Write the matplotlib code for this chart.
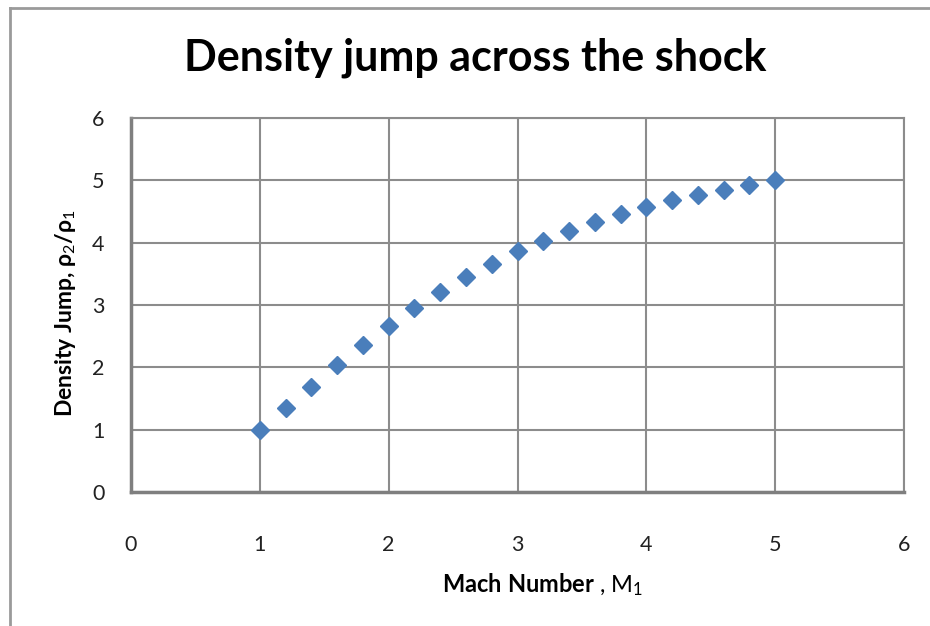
import matplotlib
matplotlib.use("Agg")
import matplotlib.pyplot as plt
from matplotlib.lines import Line2D

# Mach number and density ratio
mach = [1.0, 1.2, 1.4, 1.6, 1.8, 2.0, 2.2, 2.4, 2.6, 2.8, 3.0,
        3.2, 3.4, 3.6, 3.8, 4.0, 4.2, 4.4, 4.6, 4.8, 5.0]
density_jump = [1.00, 1.34, 1.69, 2.03, 2.36, 2.67, 2.95, 3.21, 3.45, 3.66, 3.86,
                4.03, 4.19, 4.33, 4.46, 4.57, 4.68, 4.77, 4.85, 4.93, 5.00]
x_ticks = [0, 1, 2, 3, 4, 5, 6]
y_ticks = [0, 1, 2, 3, 4, 5, 6]

plt.rcParams['font.family'] = ['Lato', 'DejaVu Sans']
plt.rcParams['mathtext.fontset'] = 'custom'
plt.rcParams['mathtext.rm'] = 'Lato'
plt.rcParams['mathtext.bf'] = 'Lato:bold'
plt.rcParams['mathtext.it'] = 'Lato:italic'

fig = plt.figure(figsize=(9.3, 6.26), dpi=100)
ax = fig.add_axes([131/930, 134/626, 773/930, 374/626])

ax.plot(mach, density_jump, linestyle='none', marker='D', markersize=9.5,
        color='#4a7ebb', zorder=3)

ax.set_xlim(0, 6)
ax.set_ylim(0, 6)
ax.set_xticks(x_ticks)
ax.set_yticks(y_ticks)
ax.tick_params(axis='both', length=0, labelsize=15.5, colors='#222222')
ax.tick_params(axis='x', pad=31)
ax.tick_params(axis='y', pad=19)
ax.grid(True, color='#8c8c8c', linewidth=1.5)
ax.set_axisbelow(True)
for side in ['top', 'right']:
    ax.spines[side].set_color('#8c8c8c')
    ax.spines[side].set_linewidth(1.5)
for side in ['left', 'bottom']:
    ax.spines[side].set_color('#7f7f7f')
    ax.spines[side].set_linewidth(2.5)

fig.text(475/930, 1 - 58/626, 'Density jump across the shock',
         ha='center', va='center', fontsize=31, fontweight='bold')
fig.text(543/930, 1 - 585/626, r'$\mathbf{Mach\ Number}$ , $\mathrm{M}_1$',
         ha='center', va='center', fontsize=17)
fig.text(66/930, 1 - 313/626, 'Density Jump, ρ$_2$/ρ$_1$',
         ha='center', va='center', fontsize=16.5, fontweight='bold', rotation=90)

# outer chart border (left and top edges only are in view)
fig.add_artist(Line2D([10/930, 10/930], [0, 1 - 8/626], transform=fig.transFigure,
                      color='#9a9a9a', linewidth=2))
fig.add_artist(Line2D([10/930, 1.02], [1 - 8/626, 1 - 8/626], transform=fig.transFigure,
                      color='#9a9a9a', linewidth=2))

fig.savefig('out.png', dpi=100)
